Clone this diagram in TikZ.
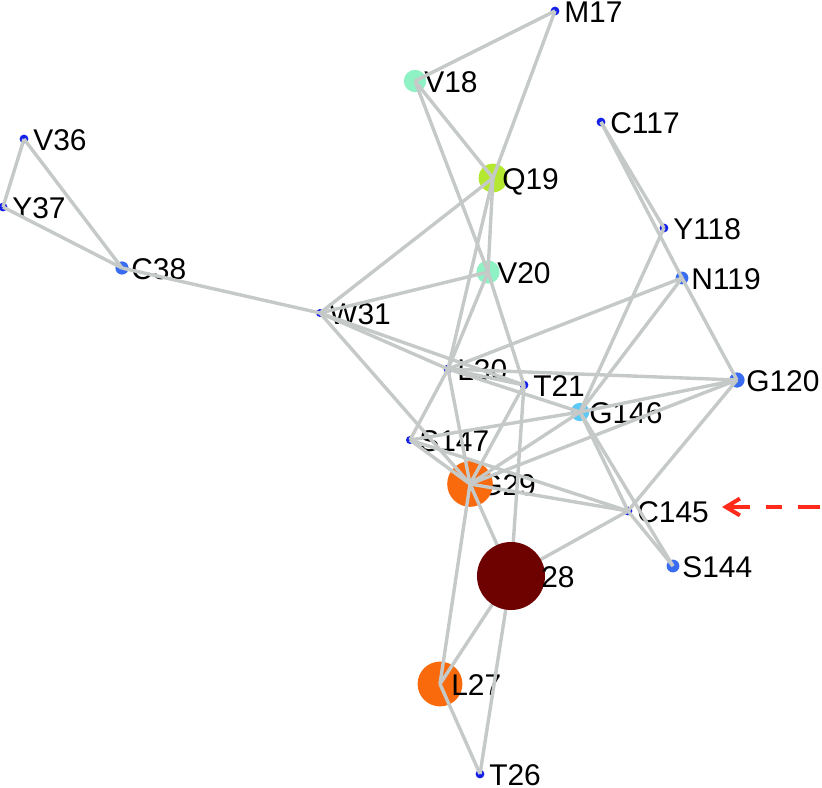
\documentclass[tikz,border=0pt]{standalone}
\usepackage{fontspec}
\setmainfont{Liberation Sans}
\usetikzlibrary{arrows.meta}
\pgfdeclarelayer{front}
\pgfsetlayers{main,front}

\definecolor{linkgray}{HTML}{C5C9C7}
\definecolor{dotblue}{HTML}{1420EA}
\definecolor{midblue}{HTML}{3A6CF2}
\definecolor{skyblue}{HTML}{5CC8F6}
\definecolor{mint}{HTML}{8EF2C4}
\definecolor{lime}{HTML}{B4E830}
\definecolor{hotorange}{HTML}{F96A0C}
\definecolor{darkred}{HTML}{6E0200}
\definecolor{pointred}{HTML}{FF2A1A}

\begin{document}
\begin{tikzpicture}[x=0.025cm,y=-0.025cm,
	res/.style={circle,inner sep=0pt,minimum size=#1},
	tagtext/.style={anchor=west,xshift=0.225cm,yshift=-0.025cm,inner sep=0pt,text height=15.4pt,text depth=0pt,font=\fontsize{21.3}{25}\selectfont},
	link/.style={draw=linkgray,line width=0.085cm},
	pointer/.style={draw=pointred,line width=0.1cm,dash pattern=on 0.55cm off 0.4cm on 0.4cm off 0.4cm,{Straight Barb[length=0.35cm,width=0.42cm]}-}]
	\useasboundingbox (0,0) rectangle (822,788);

	\node[res=0.22cm,fill=dotblue] (M17) at (555,11) {};
	\node[tagtext] (M17t) at (M17) {M17};
	\node[res=0.56cm,fill=mint] (V18) at (415,81) {};
	\node[tagtext] (V18t) at (V18) {V18};
	\node[res=0.72cm,fill=lime] (Q19) at (493,178) {};
	\node[tagtext] (Q19t) at (Q19) {Q19};
	\node[res=0.58cm,fill=mint] (V20) at (488,272) {};
	\node[tagtext] (V20t) at (V20) {V20};
	\node[res=0.22cm,fill=dotblue] (C117) at (601,122) {};
	\node[tagtext] (C117t) at (C117) {C117};
	\node[res=0.22cm,fill=dotblue] (Y118) at (664,228) {};
	\node[tagtext] (Y118t) at (Y118) {Y118};
	\node[res=0.32cm,fill=midblue] (N119) at (682,278) {};
	\node[tagtext] (N119t) at (N119) {N119};
	\node[res=0.38cm,fill=midblue] (G120) at (737,380) {};
	\node[tagtext] (G120t) at (G120) {G120};
	\node[res=0.22cm,fill=dotblue] (V36) at (24,139) {};
	\node[tagtext] (V36t) at (V36) {V36};
	\node[res=0.22cm,fill=dotblue] (Y37) at (3,207) {};
	\node[tagtext] (Y37t) at (Y37) {Y37};
	\node[res=0.33cm,fill=midblue] (C38) at (122,268) {};
	\node[tagtext] (C38t) at (C38) {C38};
	\node[res=0.2cm,fill=dotblue] (W31) at (320,313) {};
	\node[tagtext] (W31t) at (W31) {W31};
	\node[res=0.22cm,fill=dotblue] (L30) at (448,369) {};
	\node[tagtext] (L30t) at (L30) {L30};
	\node[res=0.22cm,fill=dotblue] (T21) at (524,385) {};
	\node[tagtext] (T21t) at (T21) {T21};
	\node[res=0.46cm,fill=skyblue] (G146) at (580,412) {};
	\node[tagtext] (G146t) at (G146) {G146};
	\node[res=0.2cm,fill=dotblue] (S147) at (410,440) {};
	\node[tagtext] (S147t) at (S147) {S147};
	\node[tagtext] (G29t) at (470,484) {G29};
	\node[res=1.14cm,fill=hotorange] (G29) at (470,484) {};
	\node[res=0.22cm,fill=dotblue] (C145) at (628,511) {};
	\node[tagtext] (C145t) at (C145) {C145};
	\node[res=0.32cm,fill=midblue] (S144) at (673,566) {};
	\node[tagtext] (S144t) at (S144) {S144};
	\node[res=1.12cm,fill=hotorange] (L27) at (440,684) {};
	\node[tagtext,xshift=0.05cm] (L27t) at (L27) {L27};
	\node[res=0.22cm,fill=dotblue] (T26) at (480,774) {};
	\node[tagtext] (T26t) at (T26) {T26};
	\begin{pgfonlayer}{front}
	\node[res=1.7cm,fill=darkred] (R28) at (511,576) {};
	\node[tagtext,xshift=0.525cm] (R28t) at (R28) {28};
	\end{pgfonlayer}

	\draw[link] (M17.center) -- (V18.center);
	\draw[link] (M17.center) -- (Q19.center);
	\draw[link] (V18.center) -- (Q19.center);
	\draw[link] (V18.center) -- (V20.center);
	\draw[link] (Q19.center) -- (V20.center);
	\draw[link] (Q19.center) -- (W31.center);
	\draw[link] (Q19.center) -- (L30.center);
	\draw[link] (V20.center) -- (W31.center);
	\draw[link] (V20.center) -- (L30.center);
	\draw[link] (V20.center) -- (T21.center);
	\draw[link] (V36.center) -- (Y37.center);
	\draw[link] (V36.center) -- (C38.center);
	\draw[link] (Y37.center) -- (C38.center);
	\draw[link] (C38.center) -- (W31.center);
	\draw[link] (W31.center) -- (L30.center);
	\draw[link] (W31.center) -- (T21.center);
	\draw[link] (W31.center) -- (G29.center);
	\draw[link] (L30.center) -- (T21.center);
	\draw[link] (L30.center) -- (G146.center);
	\draw[link] (L30.center) -- (N119.center);
	\draw[link] (L30.center) -- (G120.center);
	\draw[link] (L30.center) -- (S147.center);
	\draw[link] (L30.center) -- (G29.center);
	\draw[link] (T21.center) -- (G29.center);
	\draw[link] (T21.center) -- (R28.center);
	\draw[link] (C117.center) -- (Y118.center);
	\draw[link] (C117.center) -- (N119.center);
	\draw[link] (Y118.center) -- (G146.center);
	\draw[link] (N119.center) -- (G146.center);
	\draw[link] (N119.center) -- (G120.center);
	\draw[link] (G120.center) -- (G146.center);
	\draw[link] (G120.center) -- (G29.center);
	\draw[link] (G120.center) -- (C145.center);
	\draw[link] (G146.center) -- (S147.center);
	\draw[link] (G146.center) -- (G29.center);
	\draw[link] (G146.center) -- (C145.center);
	\draw[link] (G146.center) -- (S144.center);
	\draw[link] (C145.center) -- (S144.center);
	\draw[link] (C145.center) -- (G29.center);
	\draw[link] (C145.center) -- (S147.center);
	\draw[link] (C145.center) -- (R28.center);
	\draw[link] (S147.center) -- (G29.center);
	\draw[link] (G29.center) -- (R28.center);
	\draw[link] (G29.center) -- (L27.center);
	\draw[link] (R28.center) -- (L27.center);
	\draw[link] (R28.center) -- (T26.center);
	\draw[link] (L27.center) -- (T26.center);

	\coordinate (tip) at (722,507);
	\coordinate (tail) at (830,507);
	\draw[pointer] (tip) -- (tail);
\end{tikzpicture}
\end{document}
